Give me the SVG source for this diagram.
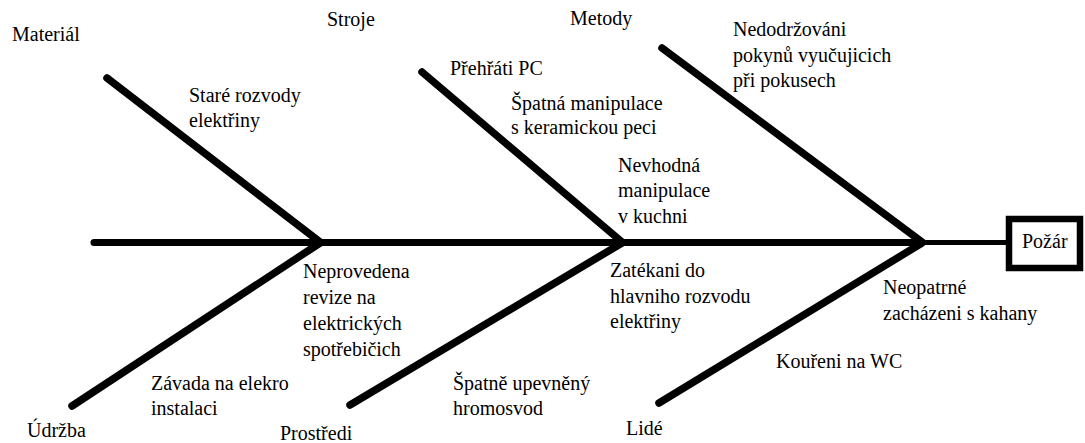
<svg xmlns="http://www.w3.org/2000/svg" width="1085" height="443" viewBox="0 0 1085 443" font-family="'Liberation Serif', 'DejaVu Serif', serif">
<style>
  text { font-family: 'Liberation Serif', 'DejaVu Serif', serif; font-size: 20px; fill: #000; }
  .bone { stroke: #000; stroke-width: 7.5; stroke-linecap: round; fill: none; }
  .spine { stroke: #000; stroke-width: 7; stroke-linecap: round; fill: none; }
  .tail { stroke: #000; stroke-width: 5; fill: none; }
  .box { fill: #fff; stroke: #000; stroke-width: 6.5; }
</style>
<rect width="1085" height="443" fill="#fff"/>
<g id="connectors">
  <line class="spine" x1="94" y1="242.5" x2="921" y2="242.5"/>
  <line class="tail" x1="921" y1="242.5" x2="1008" y2="242.5"/>
  <line class="bone" x1="107" y1="78" x2="320" y2="242"/>
  <line class="bone" x1="422" y1="72" x2="622" y2="242"/>
  <line class="bone" x1="662" y1="48" x2="922" y2="242"/>
  <line class="bone" x1="320" y1="243" x2="72" y2="406"/>
  <line class="bone" x1="622" y1="243" x2="350" y2="405"/>
  <line class="bone" x1="922" y1="243" x2="659" y2="403"/>
</g>
<g id="effect">
  <rect class="box" x="1009" y="219" width="71" height="49"/>
  <text x="1022" y="248">Požár</text>
</g>
<g id="material">
  <text x="12" y="41">Materiál</text>
  <text x="189" y="102">Staré rozvody</text>
  <text x="189" y="127">elektřiny</text>
</g>
<g id="stroje">
  <text x="327" y="26">Stroje</text>
  <text x="450" y="75">Přehřáti PC</text>
  <text x="511" y="110">Špatná manipulace</text>
  <text x="511" y="134">s keramickou peci</text>
  <text x="618" y="172">Nevhodná</text>
  <text x="618" y="197">manipulace</text>
  <text x="618" y="223">v kuchni</text>
</g>
<g id="metody">
  <text x="570" y="25">Metody</text>
  <text x="733" y="36">Nedodržováni</text>
  <text x="733" y="62">pokynů vyučujicich</text>
  <text x="733" y="87">při pokusech</text>
</g>
<g id="udrzba">
  <text x="27" y="437">Údržba</text>
  <text x="303" y="278">Neprovedena</text>
  <text x="303" y="304">revize na</text>
  <text x="303" y="330">elektrických</text>
  <text x="303" y="356">spotřebičich</text>
  <text x="151" y="390">Závada na elekro</text>
  <text x="151" y="415">instalaci</text>
</g>
<g id="prostredi">
  <text x="280" y="440">Prostředi</text>
  <text x="610" y="277">Zatékani do</text>
  <text x="610" y="303">hlavniho rozvodu</text>
  <text x="610" y="328">elektřiny</text>
  <text x="453" y="390">Špatně upevněný</text>
  <text x="453" y="415">hromosvod</text>
</g>
<g id="lide">
  <text x="626" y="435">Lidé</text>
  <text x="883" y="294">Neopatrné</text>
  <text x="883" y="320">zacházeni s kahany</text>
  <text x="776" y="368">Kouřeni na WC</text>
</g>
</svg>
